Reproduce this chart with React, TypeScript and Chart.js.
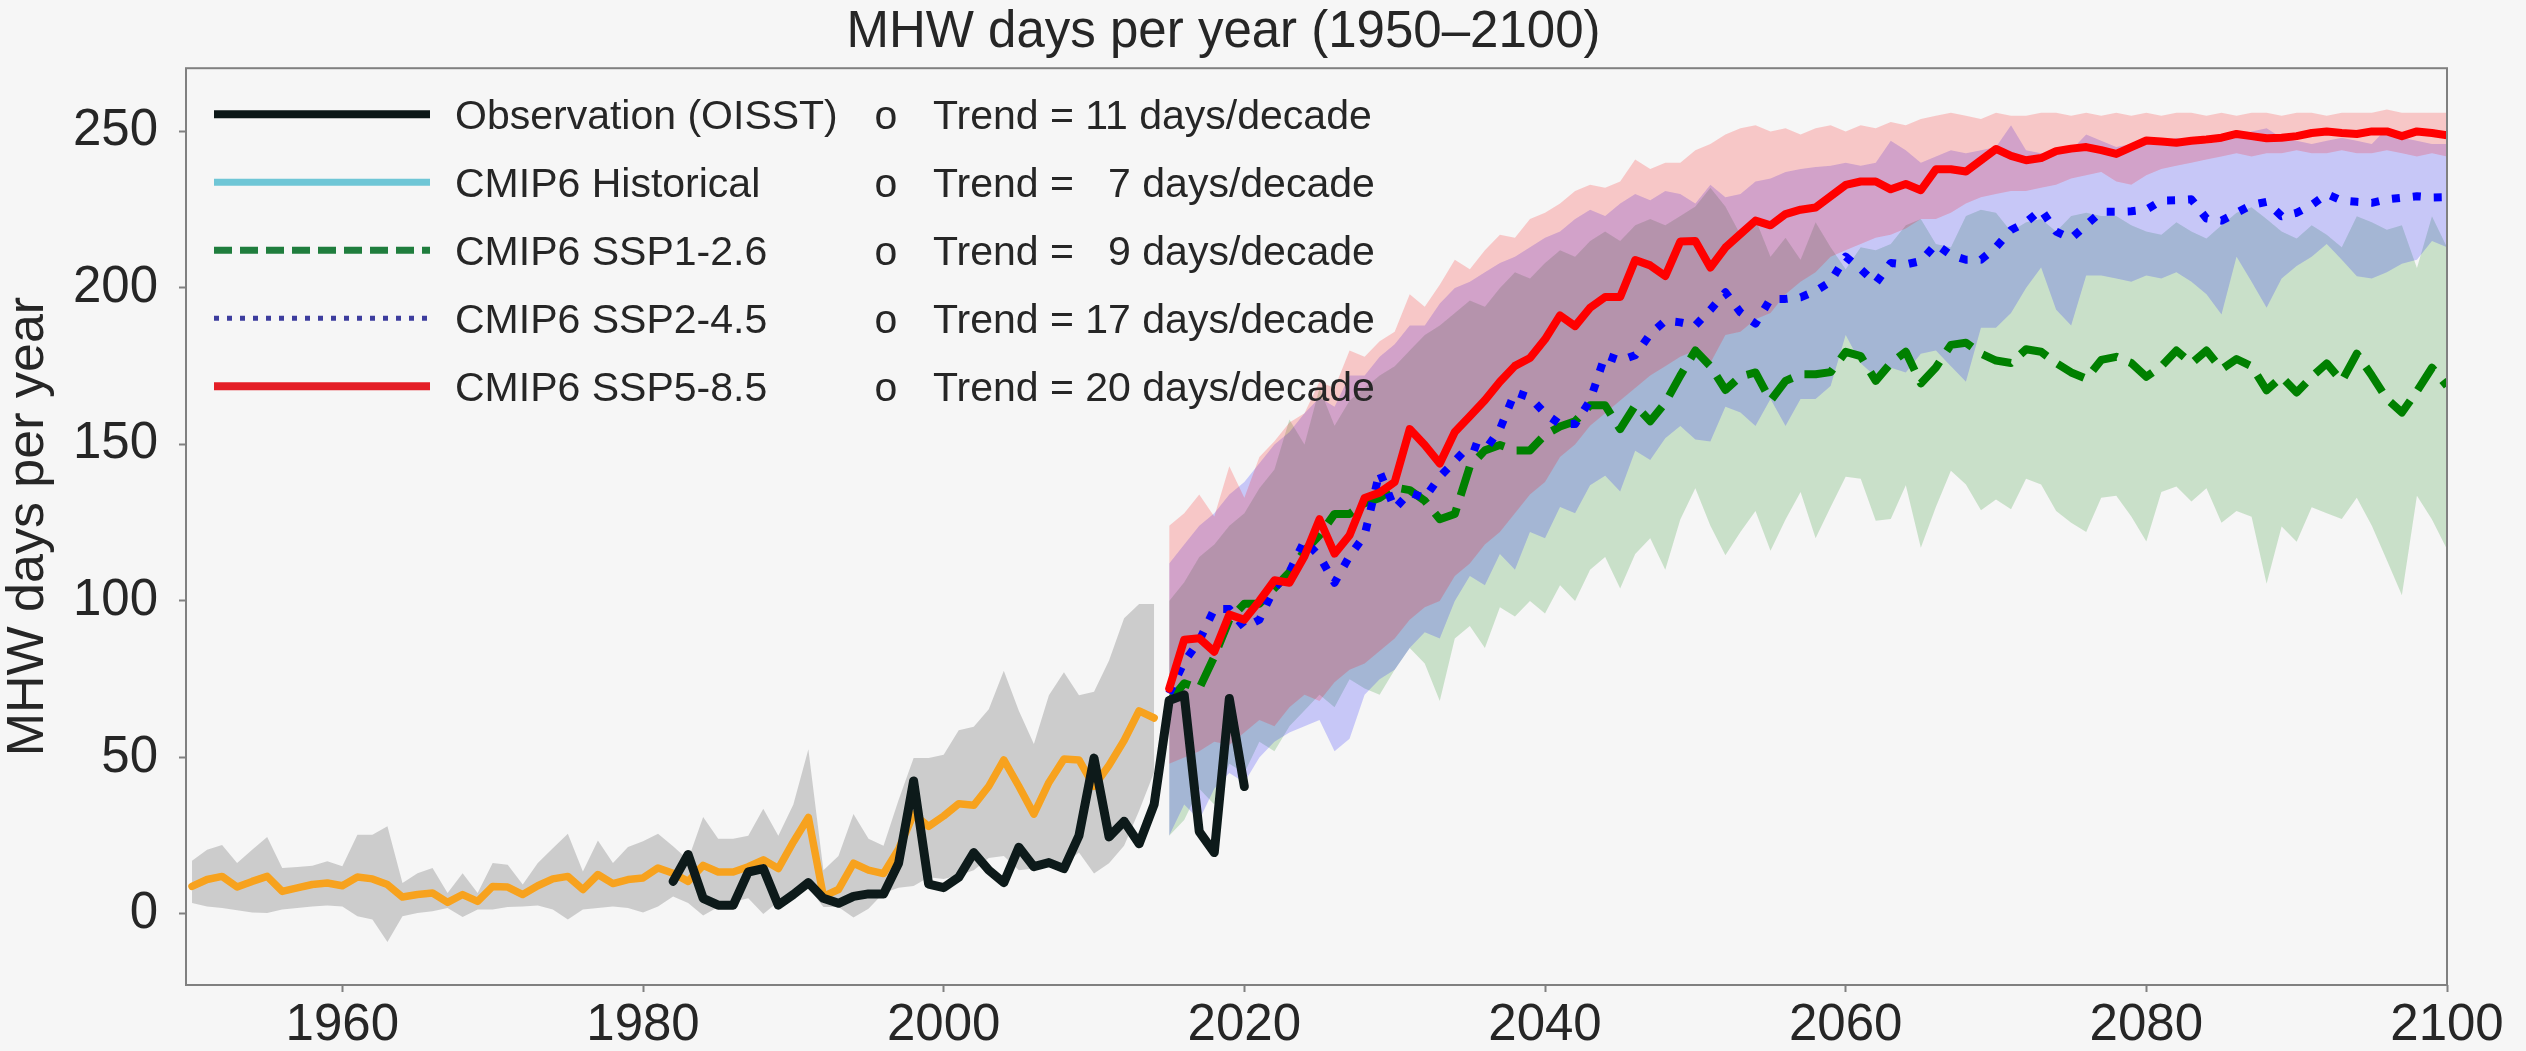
import React, { useEffect, useRef } from "react";
import { Chart, registerables } from "chart.js";

Chart.register(...registerables);

const FONT = '"Liberation Sans", Arial, Helvetica, sans-serif';
const TEXT = "#262626";
const BG = "#f6f6f6";

const TITLE = "MHW days per year (1950\u20132100)";
const Y_TITLE = "MHW days per year";

// CMIP6 historical (1950-2014): multi-model mean and spread
const HIST_START = 1950;
const histMean = [
  8.8, 11, 12, 8.6, 10.4, 12, 7.2, 8.3, 9.4, 9.9,
  9, 11.8, 11.2, 9.4, 5.4, 6.2, 6.7, 3.7, 6.2, 4,
  8.8, 8.6, 6.2, 9, 11.2, 12, 7.8, 12.6, 9.7, 11,
  11.5, 14.7, 13, 10.4, 15.5, 13.4, 13.4, 15.1, 17.3, 14.5,
  23, 30.8, 5.6, 7.8, 16.2, 14, 12.9, 20.7, 31.9, 28,
  31.3, 35.2, 34.7, 40.8, 49.2, 40.8, 31.9, 42, 49.5, 49.2,
  40.8, 47.5, 55.4, 64.9, 62.6,
];
const histLow = [
  3.5, 2.4, 1.9, 1.2, 0.5, 0.3, 1.4, 1.9, 2.4, 2.7,
  2.4, -0.7, -1.8, -9, -0.7, 0.3, 0.9, 1.9, -1, 1.4,
  1.4, 2.2, 2.4, 2.7, 1.4, -1.8, 1.4, 1.9, 2.4, 1.9,
  0.5, 2.4, 5.6, 3.5, -0.5, 2.2, 3.9, 5, 0, 3.9,
  6.7, 8.4, 2.2, 2.2, -1.1, 1.7, 6.7, 8.4, 8.9, 11.7,
  11.2, 12.3, 14, 17.9, 18.5, 14, 14.5, 16.2, 15.7, 19.6,
  12.9, 16.2, 21.8, 33, 45.3,
];
const histHigh = [
  17, 20.5, 22, 16.3, 20.5, 24.6, 14.7, 15, 15.4, 16.8,
  15.2, 25.3, 25.3, 28, 9.9, 13, 14.7, 6.7, 13, 6.7,
  16.3, 15.7, 9.4, 16.3, 21, 25.6, 13.6, 23.5, 16.3, 21.4,
  23.2, 25.6, 21.6, 17.3, 31, 24, 24, 25, 33.6, 25,
  35, 52.6, 14, 18.5, 31.9, 24, 21.8, 36.4, 49.8, 49.8,
  50.9, 58.7, 59.8, 65.4, 77.7, 64.9, 54.3, 69.9, 77.2, 69.9,
  71, 81, 94.5, 99, 99,
];

// Observation (OISST), 1982-2020
const OBS_START = 1982;
const obs = [
  10.4, 19, 5, 2.8, 2.8, 13.4, 14.5, 2.8, 6.2, 10,
  5, 3.4, 5.6, 6.4, 6.4, 16.2, 42.5, 9.5, 8.4, 11.7,
  19.6, 14, 10, 21.3, 15.1, 16.4, 14.5, 25, 49.8, 24.6,
  29.6, 22.4, 35, 68.2, 70, 26.3, 19.6, 68.8, 40.7,
];

// Scenarios, 2015-2100
const SSP_START = 2015;
const ssp126 = [
  67.8, 73.7, 72, 82.2, 94, 99.1, 99.1, 104.1, 109.2, 116,
  121, 127.8, 127.8, 131.2, 132.9, 136.3, 135.4, 132, 126.1, 127.8,
  143, 148.1, 149.8, 148.1, 148.1, 153.1, 155.7, 157.4, 162.5, 162.5,
  154.9, 162.5, 157.4, 163.3, 172, 180, 175, 167.4, 171.7, 173,
  164, 170.3, 172.4, 172.4, 173.1, 179.6, 178.2, 170.3, 176, 179.6,
  169.5, 174.6, 181.8, 182.5, 179, 176.8, 176, 180.4, 179.6, 176,
  173, 171, 177, 178, 176, 171.6, 175, 180, 175.9, 180,
  174, 177.3, 175, 167.3, 171.6, 166.6, 171.6, 175.9, 170.2, 179,
  172, 164.5, 160.2, 167, 174.5, 168.7,
];
const ssp126Low = [
  25, 30, 40, 35, 48, 45, 55, 52, 60, 65,
  70, 66, 75, 72, 70, 78, 85, 80, 68, 88,
  92, 85, 98, 95, 100, 96, 105, 100, 110, 114,
  104, 115, 120, 110, 126, 136, 124, 114.6, 122, 128.7,
  116, 126, 134.8, 120, 130, 139.7, 139, 125.6, 126.2, 137,
  117, 130, 141.6, 137.2, 129, 132.4, 129.3, 139, 137.2, 128.7,
  125, 122, 133, 133.6, 127, 119, 134.8, 136.6, 131.8, 136,
  125, 128.7, 126.9, 105.5, 123.8, 118.9, 129.9, 128, 126.2, 133,
  124, 113, 101.8, 133.6, 126, 116.5,
];
const ssp126High = [
  100, 106, 114, 118, 124, 128, 136, 142, 158, 150,
  168, 156, 164, 168, 172, 175, 180, 185, 188, 192,
  196, 194, 200, 205, 203, 208, 212, 210, 215, 218,
  215, 220, 222, 220, 223, 226, 232, 226, 217, 222,
  210, 216, 209, 221, 213, 206, 213, 212, 214, 220,
  222, 214, 213, 223, 225, 224, 218, 221, 222, 218,
  223, 224, 223, 223, 220, 218, 217, 221, 218, 215.8,
  220, 224, 225.8, 222, 218, 215.8, 220, 217, 213, 222.9,
  221, 218.6, 220, 206.4, 222.9, 213,
];

const ssp245 = [
  70.4, 80.5, 87.3, 97.4, 97.4, 91.5, 94, 104.1, 109.2, 119.3,
  114.3, 105.8, 114.3, 121, 141.3, 129.5, 134.6, 132.9, 139.7, 144.7,
  149.8, 148.1, 154.9, 166.7, 165, 159.9, 156.5, 156.5, 164.1, 178.5,
  176.8, 178.5, 185.3, 189.5, 189, 188, 193, 198.6, 192.2, 188.6,
  196.5, 196.5, 197, 199, 202, 210, 206, 201.5, 208, 207.5,
  208.6, 214, 210.5, 209, 209, 213, 218.5, 221, 225, 218,
  215.8, 220.1, 224.3, 224.3, 224.5, 225, 227.9, 228, 228.3, 222.2,
  221.5, 224, 226.5, 227.5, 222.9, 224, 226.5, 230, 227.9, 227.5,
  227.2, 228.3, 228.8, 229.3, 228.9, 229,
];
const ssp245Low = [
  25, 35, 30, 40, 45, 42, 50, 55, 58, 60,
  62, 52, 56, 70, 75, 78, 85, 90, 88, 100,
  108, 105, 115, 110, 122, 120, 130, 128, 137, 140,
  135, 148, 145, 152, 155.9, 151.6, 150.9, 162, 160.2, 155.9,
  164.5, 155.9, 164.5, 164.5, 168.7, 185, 175.9, 171.6, 174.5, 173,
  179, 180, 175, 170, 187.3, 187.3, 192, 200, 206.5, 193,
  188, 204, 204, 203, 202, 204, 203, 205, 202, 198,
  191.5, 210, 202, 193.7, 203, 207, 210, 214, 209, 203.7,
  203, 205, 207.7, 209, 215, 213,
];
const ssp245High = [
  112, 118, 124, 128, 134, 138, 144, 150, 154, 160,
  165, 162, 172, 172, 178, 182, 188, 188, 195, 200,
  202, 205, 208, 210, 213, 216, 218, 222, 225, 223,
  227, 230, 228, 231, 230, 227, 233, 229, 230, 234,
  235, 237, 238, 238.6, 239, 240, 239, 240, 247, 244,
  240, 242, 244, 243, 244, 245, 252, 244, 243, 243,
  244, 249, 247, 245, 246, 247, 246, 248, 247, 246,
  247, 248, 250, 251, 248, 247, 246, 247, 248, 247,
  246, 251, 248, 247, 246, 246,
];

const ssp585 = [
  72, 87.6, 88.1, 83.8, 95.7, 94, 100, 106.6, 105.8, 114.3,
  126.1, 115.1, 121, 132.9, 134.6, 138, 154.9, 149.8, 143.9, 154,
  159, 164.1, 170, 175.1, 177.6, 183.6, 191.2, 187.8, 193.7, 197.1,
  197.1, 208.9, 207.2, 203.8, 214.8, 215, 206.5, 212.9, 217.2, 221.5,
  220, 223.6, 225, 225.7, 229.3, 232.9, 234, 234, 231.5, 233.2,
  231.2, 237.9, 237.9, 237.2, 240.8, 244.4, 242.2, 240.8, 241.5, 243.7,
  244.5, 245, 244, 242.8, 245, 247.1, 246.8, 246.4, 247, 247.4,
  248, 249.2, 248.5, 247.8, 248, 248.5, 249.5, 250, 249.5, 249.2,
  250, 250, 248.5, 250, 249.5, 248.8,
];
const ssp585Low = [
  48, 50, 52, 55, 54, 58, 62, 60, 66, 70,
  68, 74, 78, 80, 84, 88, 94, 98, 100, 108,
  112, 118, 122, 128, 134, 138, 146, 150, 156, 160,
  164, 168, 172, 175, 178, 180, 176, 185, 186, 190,
  192, 198, 202, 205, 210, 212, 214, 216, 217, 219,
  222, 222, 224, 227, 229, 230, 231, 231, 232, 233,
  235, 236, 237, 234, 233, 236, 238, 239, 240, 241,
  242, 243, 242, 243, 243, 244, 243, 243, 244, 243,
  243, 244, 243, 242, 243, 242,
];
const ssp585High = [
  124, 128, 134, 127, 143, 133, 146, 151, 157, 160,
  170, 168, 180, 178, 183, 186, 198, 194, 201, 209,
  206, 212, 217, 216, 222, 224, 227, 231, 233, 232,
  234, 241, 238, 240, 240, 244, 246, 249, 251, 252,
  250, 251, 249, 251, 252, 250, 252, 251, 253, 252,
  254, 255, 256, 255, 254, 256, 255, 255, 256, 256,
  255, 256, 255, 256, 255, 256, 255, 256, 256, 255,
  256, 255, 256, 256, 255, 256, 256, 255, 256, 256,
  256, 257, 256, 256, 256, 256,
];

const xTicks = [1960, 1980, 2000, 2020, 2040, 2060, 2080, 2100];
const yTicks = [0, 50, 100, 150, 200, 250];
const X_MIN = 1949.6;
const X_MAX = 2100;
const Y_MIN = -22.7;
const Y_MAX = 270.2;

const legendLabels = [
  "Observation (OISST)",
  "CMIP6 Historical",
  "CMIP6 SSP1-2.6",
  "CMIP6 SSP2-4.5",
  "CMIP6 SSP5-8.5",
];
const trendLabels = [
  "Trend = 11 days/decade",
  "Trend =   7 days/decade",
  "Trend =   9 days/decade",
  "Trend = 17 days/decade",
  "Trend = 20 days/decade",
];
const legendHandles = [
  { color: "#0b1717", width: 8, dash: [] as number[] },
  { color: "#6fc6d6", width: 7, dash: [] as number[] },
  { color: "#1f7d3d", width: 7, dash: [18, 8] },
  { color: "#3d3d9e", width: 5, dash: [5, 8] },
  { color: "#e41e26", width: 8, dash: [] as number[] },
];

const pts = (start: number, arr: number[]) => arr.map((y, i) => ({ x: start + i, y }));

const framePlugin = {
  id: "frame",
  afterDatasetsDraw(chart: any) {
    const { ctx, chartArea } = chart;
    ctx.save();
    ctx.strokeStyle = "#808080";
    ctx.lineWidth = 2;
    ctx.strokeRect(chartArea.left, chartArea.top, chartArea.right - chartArea.left, chartArea.bottom - chartArea.top);
    ctx.restore();
  },
};

const legendPlugin = {
  id: "customLegend",
  afterDatasetsDraw(chart: any) {
    const { ctx, chartArea } = chart;
    ctx.save();
    ctx.font = `41px ${FONT}`;
    ctx.fillStyle = TEXT;
    ctx.textBaseline = "alphabetic";
    legendLabels.forEach((label, i) => {
      const y = chartArea.top + 46 + i * 68;
      const h = legendHandles[i];
      ctx.beginPath();
      ctx.strokeStyle = h.color;
      ctx.lineWidth = h.width;
      ctx.lineCap = "butt";
      ctx.setLineDash(h.dash);
      ctx.moveTo(chartArea.left + 28, y);
      ctx.lineTo(chartArea.left + 244, y);
      ctx.stroke();
      ctx.setLineDash([]);
      ctx.textAlign = "left";
      ctx.fillText(label, chartArea.left + 269, y + 15);
      ctx.textAlign = "center";
      ctx.fillText("o", chartArea.left + 700, y + 15);
      ctx.textAlign = "left";
      ctx.fillText(trendLabels[i], chartArea.left + 747, y + 15);
    });
    ctx.restore();
  },
};

export default function App() {
  const ref = useRef<HTMLCanvasElement | null>(null);

  useEffect(() => {
    const canvas = ref.current;
    if (!canvas) return;

    const band = (label: string, data: number[], start: number, target: number, color: string, order: number) => ({
      label,
      data: pts(start, data),
      borderColor: "rgba(0,0,0,0)",
      borderWidth: 0,
      pointRadius: 0,
      fill: target >= 0 ? { target } : false,
      backgroundColor: color,
      order,
    });
    const line = (label: string, data: number[], start: number, color: string, width: number, dash: number[], order: number) => ({
      label,
      data: pts(start, data),
      borderColor: color,
      borderWidth: width,
      borderDash: dash,
      borderJoinStyle: "round" as const,
      borderCapStyle: (dash.length ? "butt" : "round") as any,
      pointRadius: 0,
      fill: false,
      order,
    });

    const datasets: any[] = [
      line("Observation (OISST)", obs, OBS_START, "#0d1a1a", 9, [], 1),
      line("CMIP6 Historical", histMean, HIST_START, "#f7a21e", 7.5, [], 2),
      line("CMIP6 SSP5-8.5", ssp585, SSP_START, "#ff0000", 8, [], 3),
      line("CMIP6 SSP2-4.5", ssp245, SSP_START, "#0000ff", 8, [8, 13], 4),
      line("CMIP6 SSP1-2.6", ssp126, SSP_START, "#008000", 8, [30, 13], 5),
      band("SSP5-8.5 high", ssp585High, SSP_START, 6, "rgba(255,0,0,0.19)", 10),
      band("SSP5-8.5 low", ssp585Low, SSP_START, -1, "rgba(0,0,0,0)", 11),
      band("SSP2-4.5 high", ssp245High, SSP_START, 8, "rgba(0,0,255,0.19)", 12),
      band("SSP2-4.5 low", ssp245Low, SSP_START, -1, "rgba(0,0,0,0)", 13),
      band("SSP1-2.6 high", ssp126High, SSP_START, 10, "rgba(0,128,0,0.18)", 14),
      band("SSP1-2.6 low", ssp126Low, SSP_START, -1, "rgba(0,0,0,0)", 15),
      band("Historical high", histHigh, HIST_START, 12, "rgba(0,0,0,0.17)", 16),
      band("Historical low", histLow, HIST_START, -1, "rgba(0,0,0,0)", 17),
    ];

    const tickFont = { family: FONT, size: 51 };
    const grid = {
      display: true,
      drawOnChartArea: false,
      drawTicks: true,
      tickLength: 7,
      tickWidth: 2,
      tickColor: "#808080",
    };

    const chart = new Chart(canvas, {
      type: "line",
      data: { datasets },
      options: {
        responsive: false,
        animation: false,
        devicePixelRatio: 1,
        events: [],
        layout: { padding: { left: 0, right: 79, top: 0, bottom: 0 } },
        plugins: {
          legend: { display: false },
          tooltip: { enabled: false },
          title: {
            display: true,
            text: TITLE,
            color: TEXT,
            font: { family: FONT, size: 51, weight: "normal", lineHeight: 1.2 },
            padding: { top: 2, bottom: 5 },
          },
        },
        scales: {
          x: {
            type: "linear",
            min: X_MIN,
            max: X_MAX,
            afterBuildTicks: (s: any) => {
              s.ticks = xTicks.map((v) => ({ value: v }));
            },
            afterFit: (s: any) => {
              s.height = 66;
            },
            ticks: {
              color: TEXT,
              font: tickFont,
              padding: 3,
              maxRotation: 0,
              autoSkip: false,
              callback: (v: any) => String(v),
            },
            grid,
            border: { display: false },
          },
          y: {
            type: "linear",
            min: Y_MIN,
            max: Y_MAX,
            afterBuildTicks: (s: any) => {
              s.ticks = yTicks.map((v) => ({ value: v }));
            },
            afterFit: (s: any) => {
              s.width = 186;
            },
            ticks: {
              color: TEXT,
              font: tickFont,
              padding: 21,
              autoSkip: false,
              callback: (v: any) => String(v),
            },
            title: {
              display: true,
              text: Y_TITLE,
              color: TEXT,
              font: { family: FONT, size: 52, lineHeight: 1.1 },
              padding: 0,
            },
            grid,
            border: { display: false },
          },
        },
      } as any,
      plugins: [framePlugin, legendPlugin],
    });

    return () => chart.destroy();
  }, []);

  return (
    <div style={{ position: "absolute", left: 0, top: 0, width: 2526, height: 1051, background: BG }}>
      <canvas ref={ref} width={2526} height={1051} style={{ display: "block" }} />
    </div>
  );
}
